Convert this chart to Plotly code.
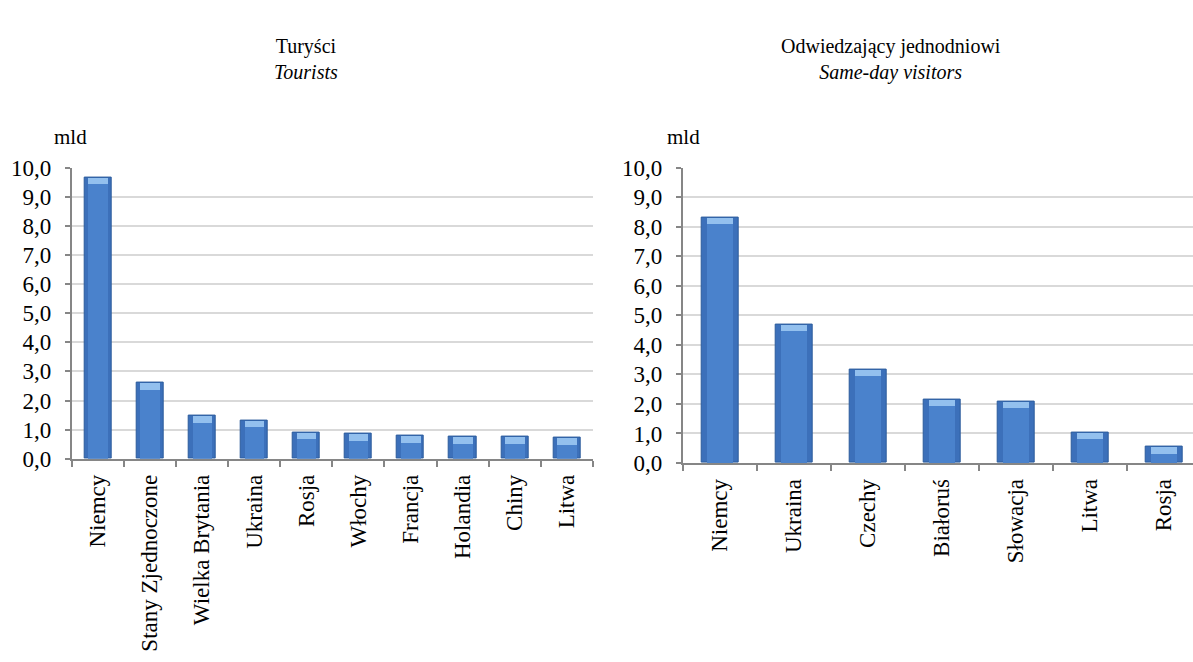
import plotly.graph_objects as go

# ---- data ----
tour_countries = ["Niemcy", "Stany Zjednoczone", "Wielka Brytania", "Ukraina", "Rosja",
                  "Włochy", "Francja", "Holandia", "Chiny", "Litwa"]
tour_values = [9.66, 2.61, 1.47, 1.32, 0.90, 0.86, 0.79, 0.75, 0.75, 0.72]

day_countries = ["Niemcy", "Ukraina", "Czechy", "Białoruś", "Słowacja", "Litwa", "Rosja"]
day_values = [8.31, 4.70, 3.17, 2.15, 2.09, 1.03, 0.54]

y_ticks = [0, 1, 2, 3, 4, 5, 6, 7, 8, 9, 10]

FONT = "Liberation Serif, Times New Roman, serif"
W, H = 1193, 662
BAR = "#3c70ba"
INNER = "#4a82cc"
EDGE = "#2c5c9c"
CAP = "#93c0ee"
CAP_H = 0.22
TICK_SIZE = 23

fig = go.Figure()

def add_bars(cats, vals, xa, ya, width):
    fig.add_trace(go.Bar(x=cats, y=vals, width=width, marker=dict(color=BAR, line=dict(color=EDGE, width=1)),
                         xaxis=xa, yaxis=ya, showlegend=False, hoverinfo="x+y"))
    fig.add_trace(go.Bar(x=cats, y=[v - CAP_H for v in vals], width=width * 0.72,
                         marker=dict(color=INNER, line=dict(width=0)),
                         xaxis=xa, yaxis=ya, showlegend=False, hoverinfo="skip"))
    fig.add_trace(go.Bar(x=cats, y=[CAP_H] * len(vals), base=[v - CAP_H for v in vals], width=width * 0.72,
                         marker=dict(color=CAP, line=dict(width=0)),
                         xaxis=xa, yaxis=ya, showlegend=False, hoverinfo="skip"))

add_bars(tour_countries, tour_values, "x", "y", 0.52)
add_bars(day_countries, day_values, "x2", "y2", 0.5)

# ---- layout geometry (pixels -> paper fractions) ----
L_x0, L_x1 = 71.7, 593.0
R_x0, R_x1 = 682.7, 1193.0
L_top, L_bot = 161.7, 464.3
R_top, R_bot = 161.7, 468.7
R_cat_px = 74.0

def fx(px):
    return px / W

def fy(py):
    return 1 - py / H

xcommon = dict(type="category", showgrid=False, showline=True, linecolor="#868686", linewidth=1.5,
               ticks="outside", tickson="boundaries", ticklen=6, tickcolor="#868686", tickwidth=1.5,
               tickangle=-90, tickfont=dict(family=FONT, size=TICK_SIZE, color="black"),
               ticklabelstandoff=5, fixedrange=True)
ycommon = dict(range=[0, 10], tickvals=y_ticks, tickformat=".1f", showgrid=True, gridcolor="#d9d9d9",
               gridwidth=1.5, showline=True, linecolor="#868686", linewidth=1.5, ticks="outside",
               ticklen=5, tickcolor="#868686", tickwidth=1.5,
               tickfont=dict(family=FONT, size=TICK_SIZE, color="black"), zeroline=False,
               ticklabelstandoff=9, fixedrange=True)

fig.update_layout(
    width=W, height=H, margin=dict(l=0, r=0, t=0, b=0),
    paper_bgcolor="white", plot_bgcolor="white",
    separators=",.", barmode="overlay", bargap=0,
    font=dict(family=FONT, size=21, color="black"),
    xaxis=dict(xcommon, domain=[fx(L_x0), fx(L_x1)], anchor="y", range=[-0.5, 9.5]),
    yaxis=dict(ycommon, domain=[fy(L_bot), fy(L_top)], anchor="x"),
    xaxis2=dict(xcommon, domain=[fx(R_x0), fx(R_x1)], anchor="y2",
                range=[-0.5, -0.5 + (R_x1 - R_x0) / R_cat_px]),
    yaxis2=dict(ycommon, domain=[fy(R_bot), fy(R_top)], anchor="x2"),
)

def text(x, y, s, size, xanchor="center"):
    fig.add_annotation(x=fx(x), y=fy(y), xref="paper", yref="paper", text=s, showarrow=False,
                       xanchor=xanchor, yanchor="middle", align="center",
                       font=dict(family=FONT, size=size, color="black"))

text(306, 49, "Turyści<br><i>Tourists</i>", 20)
text(891, 49, "Odwiedzający jednodniowi<br><i>Same-day visitors</i>", 20)
text(52, 130, "mld", 21, xanchor="left")
text(665, 130, "mld", 21, xanchor="left")

fig.write_html("out.html", config={"displayModeBar": False},
               post_script="document.body.style.margin='0';document.body.style.overflow='hidden';")
